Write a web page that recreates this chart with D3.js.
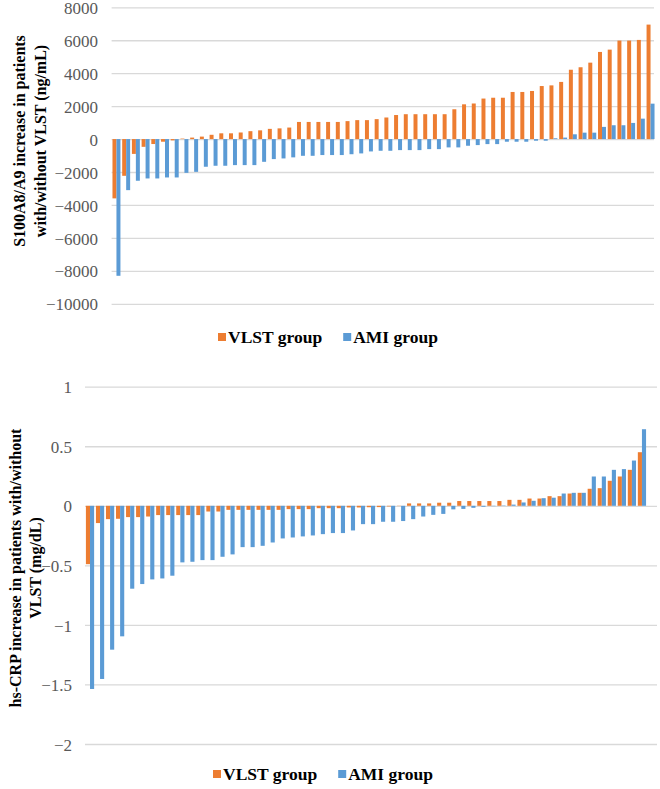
<!DOCTYPE html>
<html>
<head>
<meta charset="utf-8">
<script src="https://cdn.jsdelivr.net/npm/d3@7"></script>
<style>
  html, body { margin: 0; padding: 0; background: #fff; }
  svg { display: block; }
  text { font-family: "Liberation Serif", "Times New Roman", serif; }
</style>
</head>
<body>
<svg id="chart" width="660" height="789"></svg>
<script>
// ---------- DATA ----------
const seriesNames = ["VLST group", "AMI group"];
const seriesColors = ["#ED7D31", "#5B9BD5"];

// Panel A: S100A8/A9 increase (ng/mL), 56 patients each
const s100Vlst = [-3600, -2230, -900, -470, -300, -160, -80, 30, 90, 150,
  260, 350, 350, 400, 480, 530, 620, 650, 700, 1040,
  1040, 1040, 1040, 1040, 1090, 1150, 1150, 1210, 1310, 1460,
  1510, 1510, 1510, 1510, 1510, 1810, 2110, 2160, 2460, 2510,
  2510, 2860, 2860, 2920, 3220, 3260, 3470, 4210, 4360, 4640,
  5290, 5430, 5980, 5980, 6020, 6950];
const s100Ami = [-8300, -3100, -2530, -2390, -2390, -2330, -2330, -2050, -1990, -1680,
  -1620, -1620, -1580, -1580, -1580, -1380, -1215, -1175, -1110, -1015,
  -1015, -970, -970, -970, -920, -870, -750, -710, -710, -670,
  -670, -670, -610, -610, -505, -505, -405, -365, -305, -305,
  -160, -160, -160, -100, -100, 50, 90, 290, 390, 390,
  740, 840, 840, 980, 1240, 2150];
const s100Ticks = [8000, 6000, 4000, 2000, 0, -2000, -4000, -6000, -8000, -10000];

// Panel B: hs-CRP increase (mg/dL), 56 patients each
const crpVlst = [-0.49, -0.145, -0.112, -0.109, -0.095, -0.095, -0.09, -0.078, -0.078, -0.078,
  -0.078, -0.078, -0.048, -0.048, -0.034, -0.034, -0.034, -0.034, -0.034, -0.034,
  -0.028, -0.028, -0.028, -0.02, -0.02, -0.02, -0.014, -0.014, -0.012, -0.011,
  -0.005, -0.002, 0.02, 0.02, 0.02, 0.026, 0.026, 0.04, 0.04, 0.04,
  0.04, 0.04, 0.05, 0.05, 0.061, 0.061, 0.081, 0.081, 0.103, 0.109,
  0.143, 0.148, 0.21, 0.246, 0.302, 0.45];
const crpAmi = [-1.538, -1.454, -1.208, -1.096, -0.696, -0.657, -0.618, -0.61, -0.587, -0.475,
  -0.47, -0.456, -0.456, -0.428, -0.408, -0.347, -0.347, -0.336, -0.308, -0.274,
  -0.266, -0.257, -0.249, -0.238, -0.229, -0.229, -0.207, -0.154, -0.154, -0.134,
  -0.134, -0.128, -0.112, -0.09, -0.076, -0.068, -0.03, -0.026, -0.017, -0.008,
  -0.003, 0.003, 0.01, 0.028, 0.042, 0.064, 0.068, 0.103, 0.109, 0.109,
  0.246, 0.246, 0.302, 0.308, 0.38, 0.643];
const crpTicks = [1, 0.5, 0, -0.5, -1, -1.5, -2];

const titleA = ["S100A8/A9 increase in patients", "with/without VLST (ng/mL)"];
const titleB = ["hs-CRP increase in patients with/without", "VLST (mg/dL)"];

// ---------- DRAW ----------
const svg = d3.select("#chart");

function panel(cfg) {
  const g = svg.append("g");
  const n = cfg.slots;
  const x = d3.scaleBand().domain(d3.range(n)).range([cfg.x0, cfg.x1]).paddingInner(0).paddingOuter(0);
  const y = d3.scaleLinear().domain(cfg.domain).range([cfg.yBottom, cfg.yTop]);
  const inner = d3.scaleBand().domain([0, 1]).range([0, x.bandwidth()]).paddingInner(0).paddingOuter(0.22);

  // grid
  const grid = g.append("g").attr("transform", `translate(${cfg.x0},0)`)
    .call(d3.axisLeft(y).tickValues(cfg.ticks).tickSize(-(cfg.gridRight - cfg.x0)).tickFormat(""));
  grid.select(".domain").remove();
  grid.selectAll("line").attr("stroke", "#d9d9d9").attr("stroke-width", 1.3);

  // tick labels
  const ax = g.append("g").attr("transform", `translate(${cfg.labelX},0)`)
    .call(d3.axisLeft(y).tickValues(cfg.ticks).tickSize(0).tickPadding(0).tickFormat(d3.format("")));
  ax.select(".domain").remove();
  ax.selectAll("text").attr("fill", "#595959").attr("dy", "0.36em").style("font-size", "17px")
    .style("font-family", '"Liberation Serif", serif');

  // bars
  const series = [cfg.a, cfg.b];
  series.forEach((vals, si) => {
    g.append("g").selectAll("rect").data(vals).join("rect")
      .attr("x", (d, i) => x(i) + inner(si))
      .attr("width", inner.bandwidth())
      .attr("y", d => Math.min(y(d), y(0)))
      .attr("height", d => Math.abs(y(d) - y(0)))
      .attr("fill", seriesColors[si]);
  });

  // axis title
  const tcy = cfg.titleY;
  cfg.title.forEach((t, i) => {
    g.append("text")
      .attr("transform", `translate(${cfg.titleX[i]},${tcy}) rotate(-90)`)
      .attr("text-anchor", "middle")
      .attr("dominant-baseline", "central")
      .style("font-size", "16px").style("font-weight", "bold").attr("fill", "#000")
      .text(t);
  });

  // legend
  const lg = g.append("g").attr("transform", `translate(${cfg.legendX},${cfg.legendY})`);
  let off = 0;
  seriesNames.forEach((name, i) => {
    lg.append("rect").attr("x", off).attr("y", -4).attr("width", 8).attr("height", 8).attr("fill", seriesColors[i]);
    const t = lg.append("text").attr("x", off + 10).attr("y", 0).attr("dominant-baseline", "central")
      .style("font-size", "17.5px").style("font-weight", "bold").attr("fill", "#000").text(name);
    off += 10 + t.node().getComputedTextLength() + cfg.legendGap;
  });
}

panel({
  a: s100Vlst, b: s100Ami, slots: s100Vlst.length,
  x0: 111.6, x1: 655.4, gridRight: 654,
  domain: [-10000, 8000], yBottom: 303.8, yTop: 7.3,
  ticks: s100Ticks, labelX: 98,
  title: titleA, titleX: [19, 40], titleY: 141,
  legendX: 218, legendY: 337, legendGap: 21
});

panel({
  a: crpVlst, b: crpAmi, slots: crpVlst.length + 1,
  x0: 85, x1: 657, gridRight: 657,
  domain: [-2, 1], yBottom: 744, yTop: 386.7,
  ticks: crpTicks, labelX: 72,
  title: titleB, titleX: [15, 35], titleY: 568,
  legendX: 213, legendY: 774, legendGap: 21
});
</script>
</body>
</html>
